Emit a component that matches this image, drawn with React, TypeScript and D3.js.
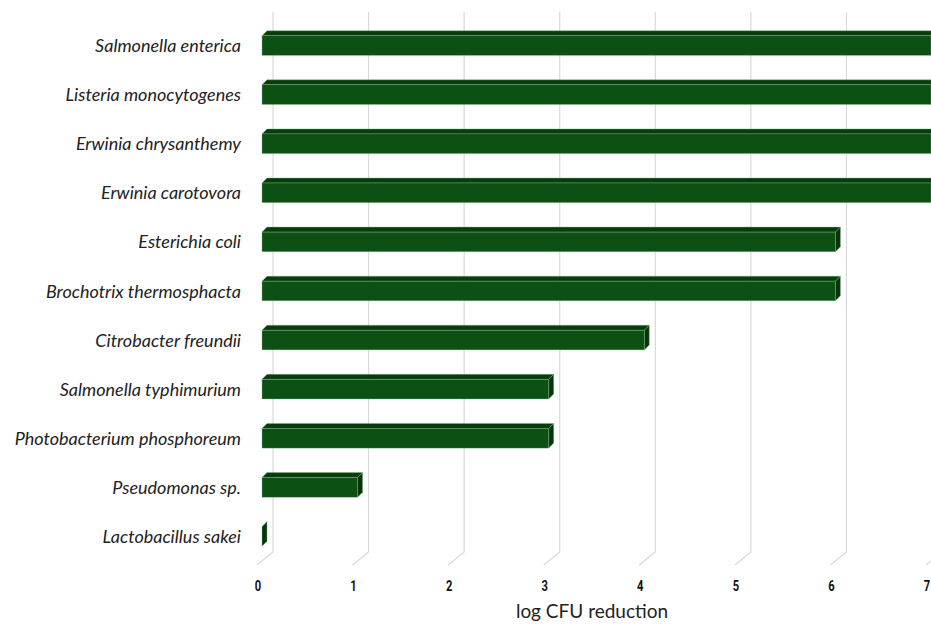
import React from "react";
import * as d3 from "d3";

const categories = [
  "Salmonella enterica",
  "Listeria monocytogenes",
  "Erwinia chrysanthemy",
  "Erwinia carotovora",
  "Esterichia coli",
  "Brochotrix thermosphacta",
  "Citrobacter freundii",
  "Salmonella typhimurium",
  "Photobacterium phosphoreum",
  "Pseudomonas sp.",
  "Lactobacillus sakei",
];
const values = [7, 7, 7, 7, 6, 6, 4, 3, 3, 1, 0];
const ticks = [0, 1, 2, 3, 4, 5, 6, 7];
const axisTitle = "log CFU reduction";

const W = 931;
const H = 624;

export default function App() {
  const x = d3.scaleLinear().domain([0, 7]).range([262, 931]);
  const y = d3
    .scaleBand<string>()
    .domain(categories)
    .range([21, 561])
    .paddingInner(0.6)
    .paddingOuter(0.3);

  const dx = 5;
  const dy = 5;
  const gridOff = 11;
  const gridTop = 12;
  const gridBottom = 552;
  const floorBottom = 565;

  const front = "#0c5014";
  const top = "#063d0b";
  const side = "#053508";
  const edge = "#7fb58a";

  return (
    <svg
      width={W}
      height={H}
      style={{ position: "absolute", left: 0, top: 0, background: "#fff" }}
    >
      <rect x={0} y={0} width={W} height={H} fill="#fff" />
      {ticks.map((t) => {
        const gx = x(t) + gridOff;
        return (
          <g key={t}>
            <path
              d={`M${gx},${gridTop}L${gx},${gridBottom}L${gx - 16},${floorBottom}`}
              fill="none"
              stroke="#d9d9d9"
              strokeWidth={1.2}
            />
            <text
              transform={`translate(${x(t) - 4},591) scale(0.72,1)`}
              textAnchor="middle"
              fontFamily="Roboto, 'DejaVu Sans', sans-serif"
              fontWeight="bold"
              fontSize={15.5}
              fill="#111"
            >
              {t}
            </text>
          </g>
        );
      })}
      {categories.map((c, i) => {
        const y0 = y(c)!;
        const y1 = y0 + y.bandwidth();
        const x0 = x(0);
        const x1 = x(values[i]);
        return (
          <g key={c}>
            <path
              d={`M${x0},${y0}L${x0 + dx},${y0 - dy}L${x1 + dx},${y0 - dy}L${x1},${y0}Z`}
              fill={top}
              stroke={edge}
              strokeWidth={0.4}
            />
            <path
              d={`M${x1},${y0}L${x1 + dx},${y0 - dy}L${x1 + dx},${y1 - dy}L${x1},${y1}Z`}
              fill={side}
              stroke={edge}
              strokeWidth={0.4}
            />
            {x1 > x0 && (
              <rect
                x={x0}
                y={y0}
                width={x1 - x0}
                height={y1 - y0}
                fill={front}
                stroke={edge}
                strokeWidth={0.4}
              />
            )}
            <text
              x={241}
              y={(y0 + y1) / 2 + 2}
              textAnchor="end"
              dominantBaseline="middle"
              fontFamily="Lato, 'Open Sans', sans-serif"
              fontStyle="italic"
              fontSize={18}
              fill="#222"
            >
              {c}
            </text>
          </g>
        );
      })}
      <text
        x={592}
        y={618}
        textAnchor="middle"
        fontFamily="Lato, 'Open Sans', sans-serif"
        fontSize={19}
        fill="#222"
      >
        {axisTitle}
      </text>
    </svg>
  );
}
